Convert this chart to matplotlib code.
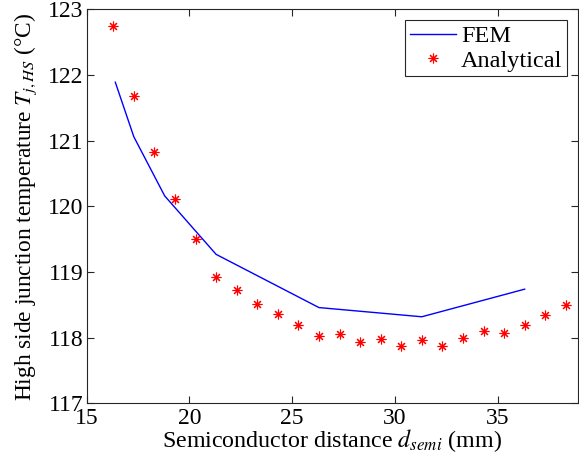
import matplotlib
matplotlib.use('Agg')
import matplotlib.pyplot as plt

# FEM results (line)
fem_d = [16.4, 17.3, 18.8, 21.3, 26.3, 31.3, 36.3]
fem_t = [121.89, 121.06, 120.16, 119.27, 118.46, 118.32, 118.74]

# Analytical results (markers)
ana_d = [16.3, 17.3, 18.3, 19.3, 20.3, 21.3, 22.3, 23.3, 24.3, 25.3, 26.3, 27.3,
         28.3, 29.3, 30.3, 31.3, 32.3, 33.3, 34.3, 35.3, 36.3, 37.3, 38.3]
ana_t = [122.74, 121.68, 120.83, 120.11, 119.51, 118.92, 118.72, 118.52, 118.36,
         118.19, 118.03, 118.06, 117.93, 117.98, 117.88, 117.96, 117.88, 117.99,
         118.10, 118.07, 118.20, 118.34, 118.50]

xticks = [15, 20, 25, 30, 35]
yticks = [117, 118, 119, 120, 121, 122, 123]

plt.rcParams['font.family'] = ['Liberation Serif', 'DejaVu Serif']
plt.rcParams['mathtext.fontset'] = 'stix'

fig = plt.figure(figsize=(5.79, 4.55), dpi=100)
ax = fig.add_axes([0.1494, 0.1132, 0.8491, 0.8664])

ax.plot(fem_d, fem_t, color='#0000ff', lw=1.0, label='FEM')
ax.plot(ana_d, ana_t, ls='none', marker=(8, 2, 0), ms=7, mew=0.8,
        color='#ff0000', label='Analytical')

ax.set_xlim(15, 38.9)
ax.set_ylim(117, 123)
ax.set_xticks(xticks)
ax.set_yticks(yticks)

ax.tick_params(direction='in', top=True, right=True, labelsize=17,
               length=5, width=0.8, color='#262626', pad=2)
ax.tick_params(axis='x', pad=3)
for s in ax.spines.values():
    s.set_color('#262626')
    s.set_linewidth(0.8)

ax.set_xlabel(r'Semiconductor distance $d_{semi}$ (mm)', fontsize=17.3, labelpad=-1)
ax.set_ylabel(r'High side junction temperature $T_{j,HS}$ (°C)', fontsize=16.8, labelpad=7)

leg = ax.legend(loc='upper right', fontsize=17.5, fancybox=False, framealpha=1,
                edgecolor='#262626', borderpad=0.2, handlelength=1.9,
                handletextpad=0.2, labelspacing=0.1, borderaxespad=0.45)
leg.get_frame().set_linewidth(0.8)

fig.savefig('out.png', dpi=100)
